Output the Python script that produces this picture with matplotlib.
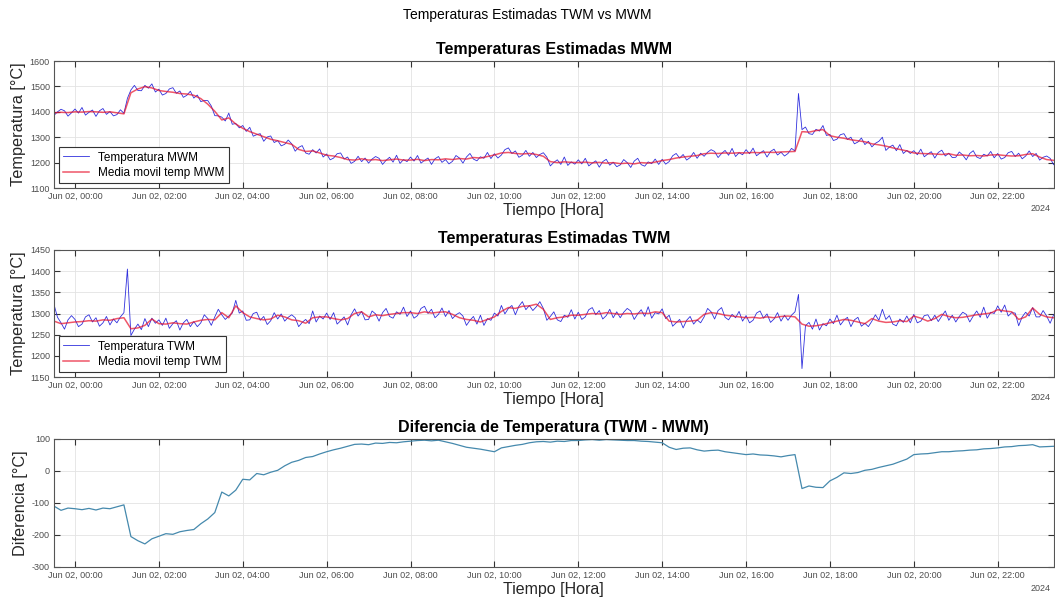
import matplotlib
matplotlib.use("Agg")
import matplotlib.pyplot as plt
import matplotlib.dates as mdates
import pandas as pd

plt.rcParams['font.family'] = ['Liberation Sans', 'DejaVu Sans']
plt.rcParams['axes.unicode_minus'] = False

t0 = pd.Timestamp('2024-06-01 23:30')
t1 = pd.Timestamp('2024-06-02 23:20')

# MWM estimated temperature, 5 min samples (first row 23:30-23:55, then one row per hour)
temp_mwm = [
    1386, 1400, 1410, 1404, 1383, 1396,
    1411, 1395, 1417, 1387, 1398, 1407, 1382, 1404, 1413, 1390, 1401, 1384,
    1389, 1408, 1394, 1453, 1486, 1504, 1484, 1483, 1504, 1493, 1510, 1478,
    1489, 1466, 1472, 1490, 1495, 1473, 1482, 1457, 1465, 1481, 1454, 1466,
    1440, 1445, 1444, 1423, 1385, 1384, 1379, 1364, 1395, 1351, 1354, 1337,
    1346, 1323, 1339, 1304, 1310, 1314, 1284, 1301, 1305, 1279, 1287, 1266,
    1272, 1289, 1274, 1245, 1260, 1267, 1238, 1233, 1251, 1238, 1254, 1222,
    1234, 1211, 1218, 1235, 1238, 1214, 1222, 1197, 1205, 1225, 1204, 1218,
    1198, 1214, 1224, 1217, 1193, 1209, 1221, 1202, 1229, 1197, 1212, 1204,
    1222, 1206, 1228, 1198, 1209, 1218, 1193, 1215, 1224, 1201, 1212, 1195,
    1205, 1228, 1218, 1198, 1222, 1236, 1214, 1207, 1223, 1217, 1240, 1216,
    1235, 1218, 1230, 1251, 1258, 1236, 1246, 1221, 1229, 1248, 1225, 1240,
    1220, 1232, 1239, 1222, 1187, 1201, 1211, 1193, 1222, 1189, 1203, 1194,
    1211, 1195, 1217, 1187, 1198, 1207, 1182, 1204, 1213, 1190, 1201, 1184,
    1191, 1212, 1200, 1181, 1206, 1217, 1192, 1186, 1203, 1196, 1214, 1193,
    1213, 1194, 1204, 1227, 1236, 1218, 1232, 1210, 1220, 1240, 1217, 1237,
    1225, 1241, 1251, 1244, 1220, 1236, 1248, 1229, 1256, 1224, 1239, 1231,
    1251, 1235, 1257, 1227, 1238, 1247, 1222, 1244, 1253, 1230, 1241, 1226,
    1236, 1256, 1246, 1472, 1330, 1340, 1314, 1311, 1331, 1324, 1346, 1307,
    1311, 1287, 1292, 1310, 1314, 1291, 1300, 1274, 1281, 1297, 1271, 1284,
    1262, 1276, 1284, 1300, 1248, 1261, 1269, 1247, 1271, 1236, 1248, 1236,
    1247, 1231, 1253, 1223, 1234, 1243, 1218, 1240, 1249, 1226, 1237, 1220,
    1221, 1242, 1230, 1211, 1236, 1247, 1222, 1216, 1233, 1226, 1244, 1219,
    1236, 1214, 1220, 1239, 1244, 1224, 1237, 1215, 1226, 1246, 1224, 1236,
    1210, 1221, 1226, 1217, 1192,
]

# TWM estimated temperature, same sampling
temp_twm = [
    1321, 1291, 1278, 1263, 1285, 1295,
    1286, 1269, 1275, 1292, 1297, 1280, 1290, 1270, 1278, 1293, 1273, 1287,
    1278, 1292, 1302, 1405, 1248, 1263, 1275, 1262, 1288, 1269, 1289, 1277,
    1285, 1272, 1289, 1265, 1276, 1283, 1261, 1278, 1286, 1269, 1281, 1269,
    1278, 1297, 1288, 1272, 1292, 1310, 1297, 1286, 1294, 1301, 1331, 1301,
    1306, 1284, 1285, 1300, 1303, 1284, 1293, 1274, 1283, 1302, 1287, 1299,
    1282, 1291, 1297, 1290, 1269, 1279, 1286, 1276, 1306, 1280, 1294, 1287,
    1301, 1286, 1302, 1275, 1283, 1292, 1273, 1297, 1311, 1294, 1305, 1285,
    1286, 1306, 1299, 1282, 1302, 1312, 1293, 1289, 1304, 1298, 1315, 1293,
    1306, 1289, 1295, 1312, 1317, 1300, 1310, 1290, 1298, 1313, 1293, 1307,
    1288, 1297, 1302, 1294, 1272, 1284, 1293, 1275, 1296, 1272, 1288, 1284,
    1301, 1294, 1319, 1299, 1312, 1319, 1297, 1317, 1328, 1309, 1319, 1307,
    1316, 1328, 1312, 1284, 1293, 1304, 1285, 1281, 1296, 1291, 1309, 1287,
    1303, 1286, 1292, 1309, 1314, 1297, 1307, 1287, 1295, 1310, 1290, 1304,
    1290, 1303, 1312, 1306, 1286, 1299, 1309, 1293, 1316, 1289, 1302, 1299,
    1311, 1288, 1296, 1270, 1278, 1286, 1266, 1284, 1293, 1275, 1285, 1278,
    1292, 1312, 1304, 1287, 1307, 1314, 1291, 1285, 1298, 1290, 1305, 1282,
    1295, 1278, 1284, 1301, 1306, 1289, 1299, 1279, 1287, 1302, 1282, 1296,
    1284, 1296, 1304, 1345, 1170, 1271, 1279, 1263, 1287, 1261, 1276, 1271,
    1287, 1276, 1296, 1273, 1284, 1291, 1269, 1285, 1291, 1270, 1277, 1269,
    1282, 1297, 1284, 1310, 1286, 1295, 1275, 1271, 1287, 1279, 1294, 1278,
    1298, 1278, 1282, 1295, 1297, 1283, 1296, 1281, 1294, 1306, 1284, 1296,
    1280, 1293, 1303, 1298, 1280, 1294, 1306, 1291, 1315, 1289, 1303, 1300,
    1318, 1303, 1320, 1294, 1302, 1301, 1271, 1292, 1303, 1294, 1314, 1292,
    1292, 1307, 1294, 1277, 1297,
]

# moving averages, 10 min steps
mm_mwm = [
    1396, 1398, 1397,
    1400, 1399, 1401, 1400, 1398, 1400,
    1396, 1392, 1475, 1490, 1499, 1494,
    1484, 1480, 1477, 1472, 1470, 1465,
    1452, 1430, 1402, 1368, 1376, 1352,
    1335, 1322, 1312, 1302, 1292, 1286,
    1279, 1272, 1252, 1244, 1246, 1238,
    1229, 1226, 1220, 1212, 1210, 1215,
    1210, 1212, 1208, 1211, 1214, 1210,
    1210, 1213, 1208, 1212, 1211, 1215,
    1212, 1216, 1214, 1220, 1218, 1224,
    1230, 1238, 1240, 1236, 1234, 1236,
    1232, 1225, 1204, 1200, 1203, 1201,
    1200, 1202, 1199, 1201, 1198, 1200,
    1196, 1198, 1195, 1200, 1198, 1202,
    1208, 1212, 1218, 1222, 1225, 1228,
    1235, 1237, 1236, 1238, 1237, 1239,
    1238, 1240, 1239, 1241, 1240, 1242,
    1243, 1244, 1322, 1320, 1326, 1330,
    1306, 1300, 1296, 1290, 1286, 1282,
    1274, 1270, 1265, 1258, 1252, 1246,
    1238, 1236, 1235, 1234, 1232, 1235,
    1229, 1230, 1227, 1228, 1226, 1230,
    1231, 1228, 1226, 1227, 1232, 1235,
    1222, 1212, 1209,
]

mm_twm = [
    1282, 1276, 1278,
    1280, 1281, 1283, 1282, 1285, 1284,
    1288, 1290, 1264, 1266, 1272, 1287,
    1276, 1275, 1278, 1276, 1275, 1280,
    1284, 1286, 1285, 1302, 1290, 1318,
    1302, 1292, 1288, 1285, 1287, 1296,
    1292, 1285, 1283, 1277, 1290, 1292,
    1292, 1288, 1285, 1288, 1300, 1304,
    1292, 1297, 1295, 1298, 1300, 1302,
    1302, 1300, 1304, 1301, 1303, 1304,
    1298, 1290, 1286, 1284, 1280, 1286,
    1292, 1305, 1314, 1312, 1317, 1318,
    1322, 1310, 1286, 1290, 1292, 1296,
    1296, 1298, 1300, 1299, 1302, 1300,
    1298, 1300, 1299, 1301, 1300, 1304,
    1302, 1282, 1280, 1281, 1282, 1284,
    1298, 1302, 1300, 1296, 1294, 1292,
    1290, 1291, 1289, 1292, 1290, 1293,
    1294, 1292, 1275, 1270, 1271, 1274,
    1278, 1282, 1286, 1284, 1280, 1276,
    1288, 1282, 1279, 1280, 1283, 1281,
    1294, 1289, 1282, 1288, 1298, 1293,
    1290, 1291, 1294, 1297, 1299, 1301,
    1309, 1306, 1304, 1286, 1292, 1313,
    1298, 1292, 1290,
]

# TWM - MWM, 10 min steps
diferencia = [
    -110, -123, -116,
    -118, -121, -117, -122, -116, -118,
    -112, -106, -205, -218, -228, -212,
    -204, -196, -198, -190, -186, -183,
    -165, -150, -130, -66, -78, -60,
    -26, -28, -8, -12, -4, 2,
    16, 27, 33, 42, 45, 53,
    60, 66, 71, 77, 83, 84,
    82, 87, 86, 89, 88, 91,
    93, 95, 96, 94, 96, 91,
    86, 80, 74, 71, 68, 64,
    60, 72, 76, 80, 83, 88,
    91, 92, 90, 93, 92, 95,
    95, 97, 98, 96, 98, 97,
    96, 95, 95, 93, 92, 90,
    88, 74, 67, 71, 72, 66,
    62, 64, 65, 60, 57, 54,
    51, 53, 50, 49, 47, 44,
    48, 51, -55, -47, -51, -52,
    -31, -20, -6, -8, -5, 2,
    5, 11, 16, 21, 29, 37,
    51, 53, 54, 57, 60, 60,
    62, 63, 65, 66, 69, 70,
    72, 75, 76, 79, 80, 82,
    75, 76, 77,
]

t_raw = pd.date_range(t0, periods=len(temp_mwm), freq='5min')
t_raw2 = pd.date_range(t0, periods=len(temp_twm), freq='5min')
t_mm = pd.date_range(t0, periods=len(mm_mwm), freq='10min')
t_mm2 = pd.date_range(t0, periods=len(mm_twm), freq='10min')
t_dif = pd.date_range(t0, periods=len(diferencia), freq='10min')

fig = plt.figure(figsize=(10.55, 6.04), dpi=100)
ax1 = fig.add_axes([0.0512, 0.6887, 0.9475, 0.2103])
ax2 = fig.add_axes([0.0512, 0.3758, 0.9475, 0.2103])
ax3 = fig.add_axes([0.0512, 0.0613, 0.9475, 0.2120])

fig.text(0.5, 0.975, 'Temperaturas Estimadas TWM vs MWM', ha='center', va='center', fontsize=10)

ax1.plot(t_raw, temp_mwm, color='#3030dd', lw=0.6, label='Temperatura MWM')
ax1.plot(t_mm, mm_mwm, color='#e8102a', lw=1.1, alpha=0.7, label='Media movil temp MWM')
ax2.plot(t_raw2, temp_twm, color='#3030dd', lw=0.6, label='Temperatura TWM')
ax2.plot(t_mm2, mm_twm, color='#e8102a', lw=1.1, alpha=0.7, label='Media movil temp TWM')
ax3.plot(t_dif, diferencia, color='#4589ad', lw=0.9)

ax1.set_ylim(1100, 1600)
ax1.set_yticks(range(1100, 1601, 100))
ax2.set_ylim(1150, 1450)
ax2.set_yticks(range(1150, 1451, 50))
ax3.set_ylim(-300, 100)
ax3.set_yticks(range(-300, 101, 100))

titles = ['Temperaturas Estimadas MWM', 'Temperaturas Estimadas TWM',
          'Diferencia de Temperatura (TWM - MWM)']
ylabels = ['Temperatura [°C]', 'Temperatura [°C]', 'Diferencia [°C]']

for ax, tit, yl in zip([ax1, ax2, ax3], titles, ylabels):
    ax.set_xlim(t0, t1)
    ax.xaxis.set_major_locator(mdates.HourLocator(byhour=range(0, 24, 2)))
    ax.xaxis.set_major_formatter(mdates.DateFormatter('%b %d, %H:%M'))
    ax.tick_params(direction='in', top=True, right=True, length=4, width=0.8,
                   labelsize=6.5, labelcolor='#4d4d4d', color='#333333', pad=3)
    ax.grid(True, color='#e3e3e3', lw=0.6)
    ax.set_axisbelow(True)
    for s in ax.spines.values():
        s.set_color('#555555')
        s.set_linewidth(0.8)
    ax.set_title(tit, fontsize=11.5, fontweight='bold', pad=5)
    ax.set_ylabel(yl, fontsize=11.7, color='#262626', labelpad=3)
    ax.set_xlabel('Tiempo [Hora]', fontsize=11.5, color='#262626', labelpad=1)
    ax.text(0.997, -0.165, '2024', transform=ax.transAxes, ha='right', va='center',
            fontsize=6.5, color='#4d4d4d')

for ax in [ax1, ax2]:
    leg = ax.legend(loc='lower left', fontsize=8.5, fancybox=False, framealpha=1,
                    edgecolor='#333333', borderaxespad=0.4, handlelength=2.2,
                    borderpad=0.35, labelspacing=0.3)
    leg.get_frame().set_linewidth(0.8)

fig.savefig('out.png', dpi=100)
